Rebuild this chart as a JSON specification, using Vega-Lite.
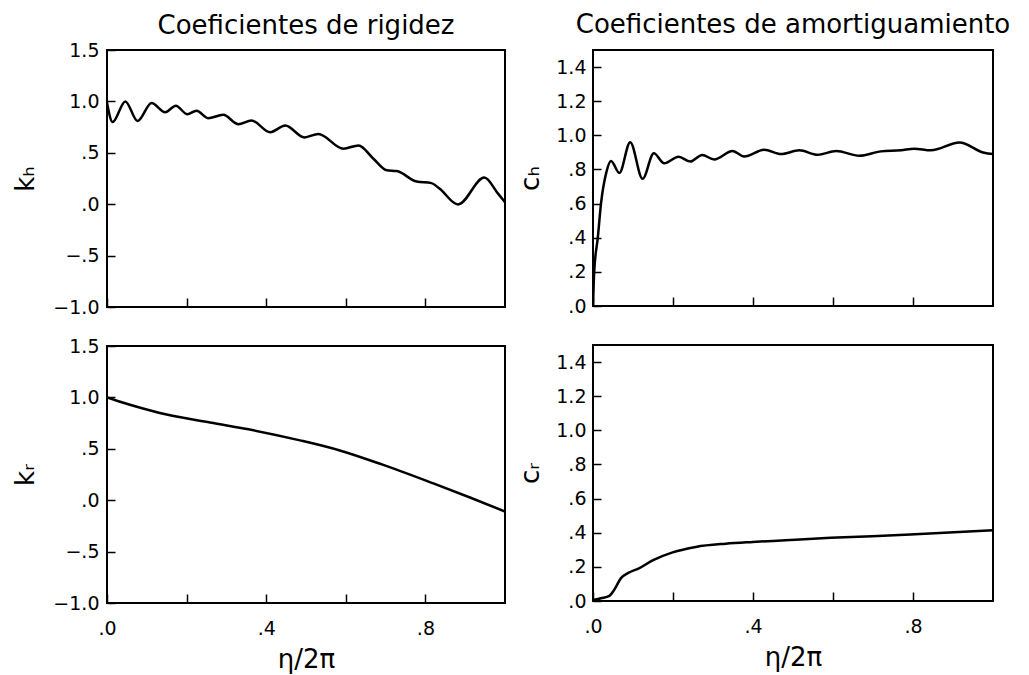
{
  "$schema": "https://vega.github.io/schema/vega-lite/v6.json",
  "background": "white",
  "padding": {"left": 11, "top": 11, "right": 5, "bottom": 3},
  "config": {
    "font": "DejaVu Sans",
    "view": {"stroke": "black", "strokeWidth": 2},
    "axis": {
      "domain": false,
      "grid": false,
      "tickColor": "black",
      "tickWidth": 1.5,
      "labelColor": "black",
      "titleColor": "black",
      "labelFont": "DejaVu Sans",
      "titleFont": "DejaVu Sans",
      "labelFontSize": 19,
      "titleFontSize": 26,
      "titleFontWeight": "normal"
    },
    "title": {"font": "DejaVu Sans", "fontSize": 26, "fontWeight": "normal", "color": "black"}
  },
  "datasets": {
    "kh": [
      {"x": 0, "y": 0.99}, {"x": 0.014, "y": 0.8}, {"x": 0.046, "y": 1.0}, {"x": 0.077, "y": 0.81},
      {"x": 0.112, "y": 0.985}, {"x": 0.146, "y": 0.895}, {"x": 0.173, "y": 0.958}, {"x": 0.202, "y": 0.875},
      {"x": 0.225, "y": 0.91}, {"x": 0.254, "y": 0.837}, {"x": 0.292, "y": 0.87}, {"x": 0.33, "y": 0.778},
      {"x": 0.363, "y": 0.814}, {"x": 0.41, "y": 0.7}, {"x": 0.448, "y": 0.765}, {"x": 0.496, "y": 0.65},
      {"x": 0.531, "y": 0.683}, {"x": 0.594, "y": 0.54}, {"x": 0.632, "y": 0.572}, {"x": 0.67, "y": 0.44},
      {"x": 0.703, "y": 0.33}, {"x": 0.728, "y": 0.322}, {"x": 0.778, "y": 0.22}, {"x": 0.815, "y": 0.205},
      {"x": 0.836, "y": 0.15}, {"x": 0.882, "y": -0.003}, {"x": 0.948, "y": 0.26}, {"x": 0.983, "y": 0.1},
      {"x": 1.0, "y": 0.02}
    ],
    "ch": [
      {"x": 0, "y": 0}, {"x": 0.003, "y": 0.2}, {"x": 0.012, "y": 0.4}, {"x": 0.02, "y": 0.6},
      {"x": 0.033, "y": 0.78}, {"x": 0.045, "y": 0.85}, {"x": 0.066, "y": 0.78}, {"x": 0.093, "y": 0.96},
      {"x": 0.124, "y": 0.745}, {"x": 0.152, "y": 0.895}, {"x": 0.178, "y": 0.836}, {"x": 0.214, "y": 0.875},
      {"x": 0.243, "y": 0.846}, {"x": 0.273, "y": 0.885}, {"x": 0.303, "y": 0.858}, {"x": 0.349, "y": 0.908},
      {"x": 0.378, "y": 0.876}, {"x": 0.428, "y": 0.916}, {"x": 0.47, "y": 0.89}, {"x": 0.516, "y": 0.912},
      {"x": 0.562, "y": 0.886}, {"x": 0.608, "y": 0.908}, {"x": 0.666, "y": 0.88}, {"x": 0.72, "y": 0.906},
      {"x": 0.77, "y": 0.912}, {"x": 0.803, "y": 0.922}, {"x": 0.845, "y": 0.912}, {"x": 0.916, "y": 0.958},
      {"x": 0.978, "y": 0.898}, {"x": 1.0, "y": 0.89}
    ],
    "kr": [
      {"x": 0, "y": 1.0}, {"x": 0.033, "y": 0.958}, {"x": 0.075, "y": 0.909}, {"x": 0.15, "y": 0.833},
      {"x": 0.259, "y": 0.755}, {"x": 0.368, "y": 0.68}, {"x": 0.485, "y": 0.582}, {"x": 0.585, "y": 0.484},
      {"x": 0.694, "y": 0.343}, {"x": 0.82, "y": 0.163}, {"x": 0.912, "y": 0.026}, {"x": 1.0, "y": -0.11}
    ],
    "cr": [
      {"x": 0, "y": 0.005}, {"x": 0.02, "y": 0.016}, {"x": 0.041, "y": 0.03}, {"x": 0.053, "y": 0.065},
      {"x": 0.07, "y": 0.134}, {"x": 0.087, "y": 0.163}, {"x": 0.116, "y": 0.193}, {"x": 0.149, "y": 0.238},
      {"x": 0.199, "y": 0.285}, {"x": 0.257, "y": 0.317}, {"x": 0.332, "y": 0.336}, {"x": 0.399, "y": 0.346},
      {"x": 0.482, "y": 0.356}, {"x": 0.594, "y": 0.37}, {"x": 0.793, "y": 0.389}, {"x": 1.0, "y": 0.415}
    ]
  },
  "spacing": 10,
  "hconcat": [
    {
      "bounds": "flush",
      "spacing": 39,
      "vconcat": [
        {
          "title": {"text": "Coeficientes  de  rigidez", "offset": 2},
          "width": 398, "height": 257,
          "data": {"name": "kh"},
          "mark": {"type": "line", "color": "black", "strokeWidth": 2.5, "interpolate": "monotone", "clip": true},
          "encoding": {
            "x": {"field": "x", "type": "quantitative", "scale": {"domain": [0, 1], "nice": false, "zero": false},
              "axis": {"title": null, "labels": false, "values": [0, 0.2, 0.4, 0.6, 0.8], "tickSize": -9}},
            "y": {"field": "y", "type": "quantitative", "scale": {"domain": [-1, 1.5], "nice": false, "zero": false},
              "axis": {"title": "kₕ", "values": [-1, -0.5, 0, 0.5, 1, 1.5], "tickSize": -8, "labelPadding": 16, "titlePadding": 14,
                "labelExpr": "abs(datum.value) >= 1 ? format(datum.value, '.1f') : replace(format(datum.value, '.1f'), '0.', '.')"}}
          }
        },
        {
          "width": 398, "height": 257,
          "data": {"name": "kr"},
          "mark": {"type": "line", "color": "black", "strokeWidth": 2.5, "interpolate": "monotone", "clip": true},
          "encoding": {
            "x": {"field": "x", "type": "quantitative", "scale": {"domain": [0, 1], "nice": false, "zero": false},
              "axis": {"title": "η/2π", "values": [0, 0.2, 0.4, 0.6, 0.8], "tickSize": -9, "labelPadding": 25, "labelFlush": false, "labelOverlap": false, "titlePadding": 8,
                "labelExpr": "abs(datum.value) < 0.01 ? '.0' : abs(datum.value - 0.4) < 0.01 ? '.4' : abs(datum.value - 0.8) < 0.01 ? '.8' : ''"}},
            "y": {"field": "y", "type": "quantitative", "scale": {"domain": [-1, 1.5], "nice": false, "zero": false},
              "axis": {"title": "kᵣ", "values": [-1, -0.5, 0, 0.5, 1, 1.5], "tickSize": -8, "labelPadding": 16, "titlePadding": 14,
                "labelExpr": "abs(datum.value) >= 1 ? format(datum.value, '.1f') : replace(format(datum.value, '.1f'), '0.', '.')"}}
          }
        }
      ]
    },
    {
      "bounds": "flush",
      "spacing": 39,
      "vconcat": [
        {
          "title": {"text": "Coeficientes  de  amortiguamiento", "offset": 12},
          "width": 400, "height": 256,
          "data": {"name": "ch"},
          "mark": {"type": "line", "color": "black", "strokeWidth": 2.5, "interpolate": "monotone", "clip": true},
          "encoding": {
            "x": {"field": "x", "type": "quantitative", "scale": {"domain": [0, 1], "nice": false, "zero": false},
              "axis": {"title": null, "labels": false, "values": [0, 0.2, 0.4, 0.6, 0.8], "tickSize": -9}},
            "y": {"field": "y", "type": "quantitative", "scale": {"domain": [0, 1.5], "nice": false, "zero": false},
              "axis": {"title": "cₕ", "values": [0, 0.2, 0.4, 0.6, 0.8, 1.0, 1.2, 1.4], "tickSize": -8, "labelPadding": 15, "titlePadding": 12,
                "labelExpr": "abs(datum.value) >= 1 ? format(datum.value, '.1f') : replace(format(datum.value, '.1f'), '0.', '.')"}}
          }
        },
        {
          "width": 400, "height": 256,
          "data": {"name": "cr"},
          "mark": {"type": "line", "color": "black", "strokeWidth": 2.5, "interpolate": "monotone", "clip": true},
          "encoding": {
            "x": {"field": "x", "type": "quantitative", "scale": {"domain": [0, 1], "nice": false, "zero": false},
              "axis": {"title": "η/2π", "values": [0, 0.2, 0.4, 0.6, 0.8], "tickSize": -9, "labelPadding": 25, "labelFlush": false, "labelOverlap": false, "titlePadding": 8,
                "labelExpr": "abs(datum.value) < 0.01 ? '.0' : abs(datum.value - 0.4) < 0.01 ? '.4' : abs(datum.value - 0.8) < 0.01 ? '.8' : ''"}},
            "y": {"field": "y", "type": "quantitative", "scale": {"domain": [0, 1.5], "nice": false, "zero": false},
              "axis": {"title": "cᵣ", "values": [0, 0.2, 0.4, 0.6, 0.8, 1.0, 1.2, 1.4], "tickSize": -8, "labelPadding": 15, "titlePadding": 12,
                "labelExpr": "abs(datum.value) >= 1 ? format(datum.value, '.1f') : replace(format(datum.value, '.1f'), '0.', '.')"}}
          }
        }
      ]
    }
  ]
}
